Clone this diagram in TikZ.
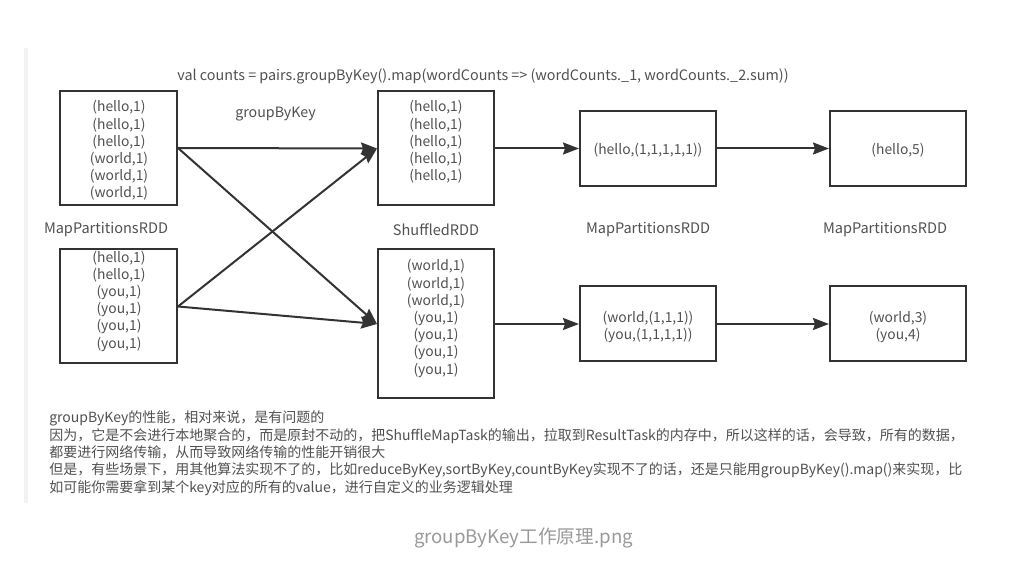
\documentclass[tikz,border=0pt]{standalone}
\usepackage{fontspec}
\setmainfont{Noto Sans CJK SC}
\usetikzlibrary{arrows.meta}
\definecolor{textgray}{HTML}{505050}
\definecolor{captiongray}{HTML}{999999}
\definecolor{bandgray}{HTML}{F3F3F3}
\definecolor{linegray}{HTML}{333333}
\tikzset{
    rddbox/.style={draw=linegray, line width=1.5pt, inner sep=0pt},
    rddtext/.style={text=textgray, font=\fontsize{10.4}{12.9}\selectfont, align=center, inner sep=0pt},
    rddname/.style={text=textgray, font=\fontsize{10.9}{12.9}\selectfont, inner sep=0pt},
    flow/.style={draw=linegray, line width=1.5pt, -{Stealth[length=12pt,width=9pt,inset=1.5pt]}}
}
\begin{document}
\begin{tikzpicture}[x=0.75pt,y=-0.75pt]
    % ==== Page, in pixels of the reference ====
    \useasboundingbox (0,0) rectangle (1035,566);
    \fill[bandgray] (24,48) rectangle (28,503);

    % Title
    \node[rddname, font=\fontsize{10.77}{12.9}\selectfont] (title) at (483,76.5) {val counts = pairs.groupByKey().map(wordCounts => (wordCounts.\_1, wordCounts.\_2.sum))};
    \node[rddname, font=\fontsize{10.66}{12.9}\selectfont] (groupname) at (275.5,114.5) {groupByKey};

    % First stage
    \node[rddbox, minimum width=87.75pt, minimum height=85.5pt] (maphello) at (118.5,148) {};
    \node[rddtext] (maphellotext) at (119,150.5) {(hello,1)\\(hello,1)\\(hello,1)\\(world,1)\\(world,1)\\(world,1)};
    \node[rddbox, minimum width=87.75pt, minimum height=85.5pt] (mapyou) at (118.5,306.5) {};
    \node[rddtext] (mapyoutext) at (119,301) {(hello,1)\\(hello,1)\\(you,1)\\(you,1)\\(you,1)\\(you,1)};

    % Second stage
    \node[rddbox, minimum width=87pt, minimum height=85.5pt] (shufhello) at (436,148.5) {};
    \node[rddtext] (shufhellotext) at (436,142) {(hello,1)\\(hello,1)\\(hello,1)\\(hello,1)\\(hello,1)};
    \node[rddbox, minimum width=87pt, minimum height=111.75pt] (shufrest) at (436,324) {};
    \node[rddtext] (shufresttext) at (436,318.5) {(world,1)\\(world,1)\\(world,1)\\(you,1)\\(you,1)\\(you,1)\\(you,1)};

    % Third and fourth stage
    \node[rddbox, minimum width=102pt, minimum height=56.25pt] (colhello) at (648,148.5) {};
    \node[rddtext] (colhellotext) at (648,150.5) {(hello,(1,1,1,1,1))};
    \node[rddbox, minimum width=102pt, minimum height=56.25pt] (colrest) at (648,324) {};
    \node[rddtext] (colresttext) at (648,327) {(world,(1,1,1))\\(you,(1,1,1,1))};
    \node[rddbox, minimum width=102pt, minimum height=56.25pt] (sumhello) at (898,148.5) {};
    \node[rddtext] (sumhellotext) at (898,150.5) {(hello,5)};
    \node[rddbox, minimum width=102pt, minimum height=56.25pt] (sumrest) at (898,324) {};
    \node[rddtext] (sumresttext) at (898,327) {(world,3)\\(you,4)};

    % RDD names
    \node[rddname] (mapname) at (106,229.5) {MapPartitionsRDD};
    \node[rddname] (shufname) at (436,229.5) {ShuffledRDD};
    \node[rddname] (colname) at (648,229.5) {MapPartitionsRDD};
    \node[rddname] (sumname) at (885,229.5) {MapPartitionsRDD};

    % Connectors
    \draw[flow] (maphello.east) -- (shufhello.west);
    \draw[flow] (maphello.east) -- (shufrest.west);
    \draw[flow] (mapyou.east) -- (shufhello.west);
    \draw[flow] (mapyou.east) -- (shufrest.west);
    \draw[flow] (shufhello.east) -- (colhello.west);
    \draw[flow] (colhello.east) -- (sumhello.west);
    \draw[flow] (shufrest.east) -- (colrest.west);
    \draw[flow] (colrest.east) -- (sumrest.west);

    % Notes
    \node[rddtext, font=\fontsize{10.5}{13.1}\selectfont, align=left, anchor=north west] (notes) at (49,410.5) {groupByKey的性能，相对来说，是有问题的\\
        因为，它是不会进行本地聚合的，而是原封不动的，把ShuffleMapTask的输出，拉取到ResultTask的内存中，所以这样的话，会导致，所有的数据，\\
        都要进行网络传输，从而导致网络传输的性能开销很大\\
        但是，有些场景下，用其他算法实现不了的，比如reduceByKey,sortByKey,countByKey实现不了的话，还是只能用groupByKey().map()来实现，比\\
        如可能你需要拿到某个key对应的所有的value，进行自定义的业务逻辑处理};

    % Caption
    \node[text=captiongray, font=\fontsize{14}{17}\selectfont, inner sep=0pt] (caption) at (523.5,538.5) {groupByKey工作原理.png};
\end{tikzpicture}
\end{document}
